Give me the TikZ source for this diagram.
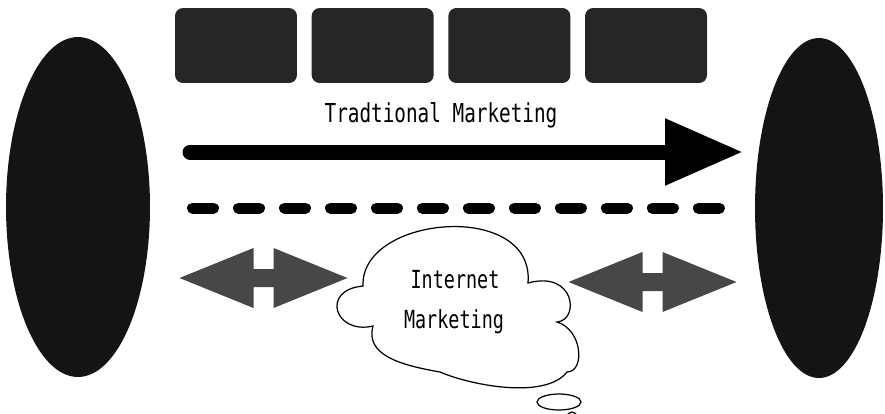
\documentclass[tikz,border=0pt]{standalone}
\usepackage{fontspec}
\newfontfamily\monofont{DejaVu Sans Mono}
\usetikzlibrary{positioning,shapes.geometric,arrows.meta}

\begin{document}
\begin{tikzpicture}[x=0.02cm,y=-0.02cm,
	blob/.style={ellipse,fill=black!92,inner sep=0pt,minimum height=6.8cm},
	panel/.style={rectangle,rounded corners=0.16cm,fill=black!85,minimum width=2.44cm,minimum height=1.5cm,inner sep=0pt},
	mtext/.style={inner sep=0pt,font=\monofont\fontsize{11}{13}\selectfont},
	linkfill/.style={fill=black!72},
	cloudline/.style={draw=black,line width=0.7pt,fill=white}]

	\useasboundingbox (0,0) rectangle (885,413);

	% customers at both ends
	\node[blob,minimum width=2.88cm] (lCustomer) at (78,207) {};
	\node[blob,minimum width=2.56cm] (rCustomer) at (819,208) {};

	% channel boxes
	\node[panel] (box1) at (236,45.5) {};
	\node[panel,right=0.28cm of box1] (box2) {};
	\node[panel,right=0.28cm of box2] (box3) {};
	\node[panel,right=0.28cm of box3] (box4) {};

	\node[mtext] (tradText) at (441,115) {\scalebox{1}[1.35]{Tradtional Marketing}};

	% one-way flow
	\coordinate (tStart) at (190,152);
	\coordinate (tEnd) at (743,152);
		\draw[line width=0.3cm,line cap=round,-{Triangle[length=1.56cm,width=1.26cm]}] (tStart) -- (tEnd);

	\coordinate (dStart) at (192.5,208);
	\coordinate (dEnd) at (720,208);
		\draw[line width=0.22cm,line cap=round,dash pattern=on 0.42cm off 0.5cm] (dStart) -- (dEnd);

	% two-way links
	\foreach \cx/\cy in {263.5/278,652.5/282} {
		\fill[linkfill] ({\cx-84},\cy) -- ({\cx-10},{\cy-30}) -- ({\cx-10},{\cy-9}) -- ({\cx+10},{\cy-9})
			-- ({\cx+10},{\cy-30}) -- ({\cx+84},\cy) -- ({\cx+10},{\cy+30}) -- ({\cx+10},{\cy+9})
			-- ({\cx-10},{\cy+9}) -- ({\cx-10},{\cy+30}) -- cycle;
	}

	% cloud
	\path[cloudline] (363,286) .. controls (360,215) and (535,200) .. (528,283)
		.. controls (575,270) and (580,320) .. (557,322)
		.. controls (583,330) and (585,372) .. (567,372)
		.. controls (545,400) and (470,385) .. (440,372)
		.. controls (400,365) and (365,355) .. (373,326)
		.. controls (335,335) and (320,290) .. cycle;
	\draw[cloudline] (572,417) circle [radius=5];
	\draw[cloudline] (559,402) ellipse [x radius=22,y radius=8];

	\node[mtext,font=\monofont\fontsize{10.5}{12}\selectfont] (netText) at (455,280) {\scalebox{1}[1.35]{Internet}};
	\node[mtext,font=\monofont\fontsize{10.5}{12}\selectfont] (mktText) at (454,322) {\scalebox{1}[1.35]{Marketing}};
\end{tikzpicture}
\end{document}
